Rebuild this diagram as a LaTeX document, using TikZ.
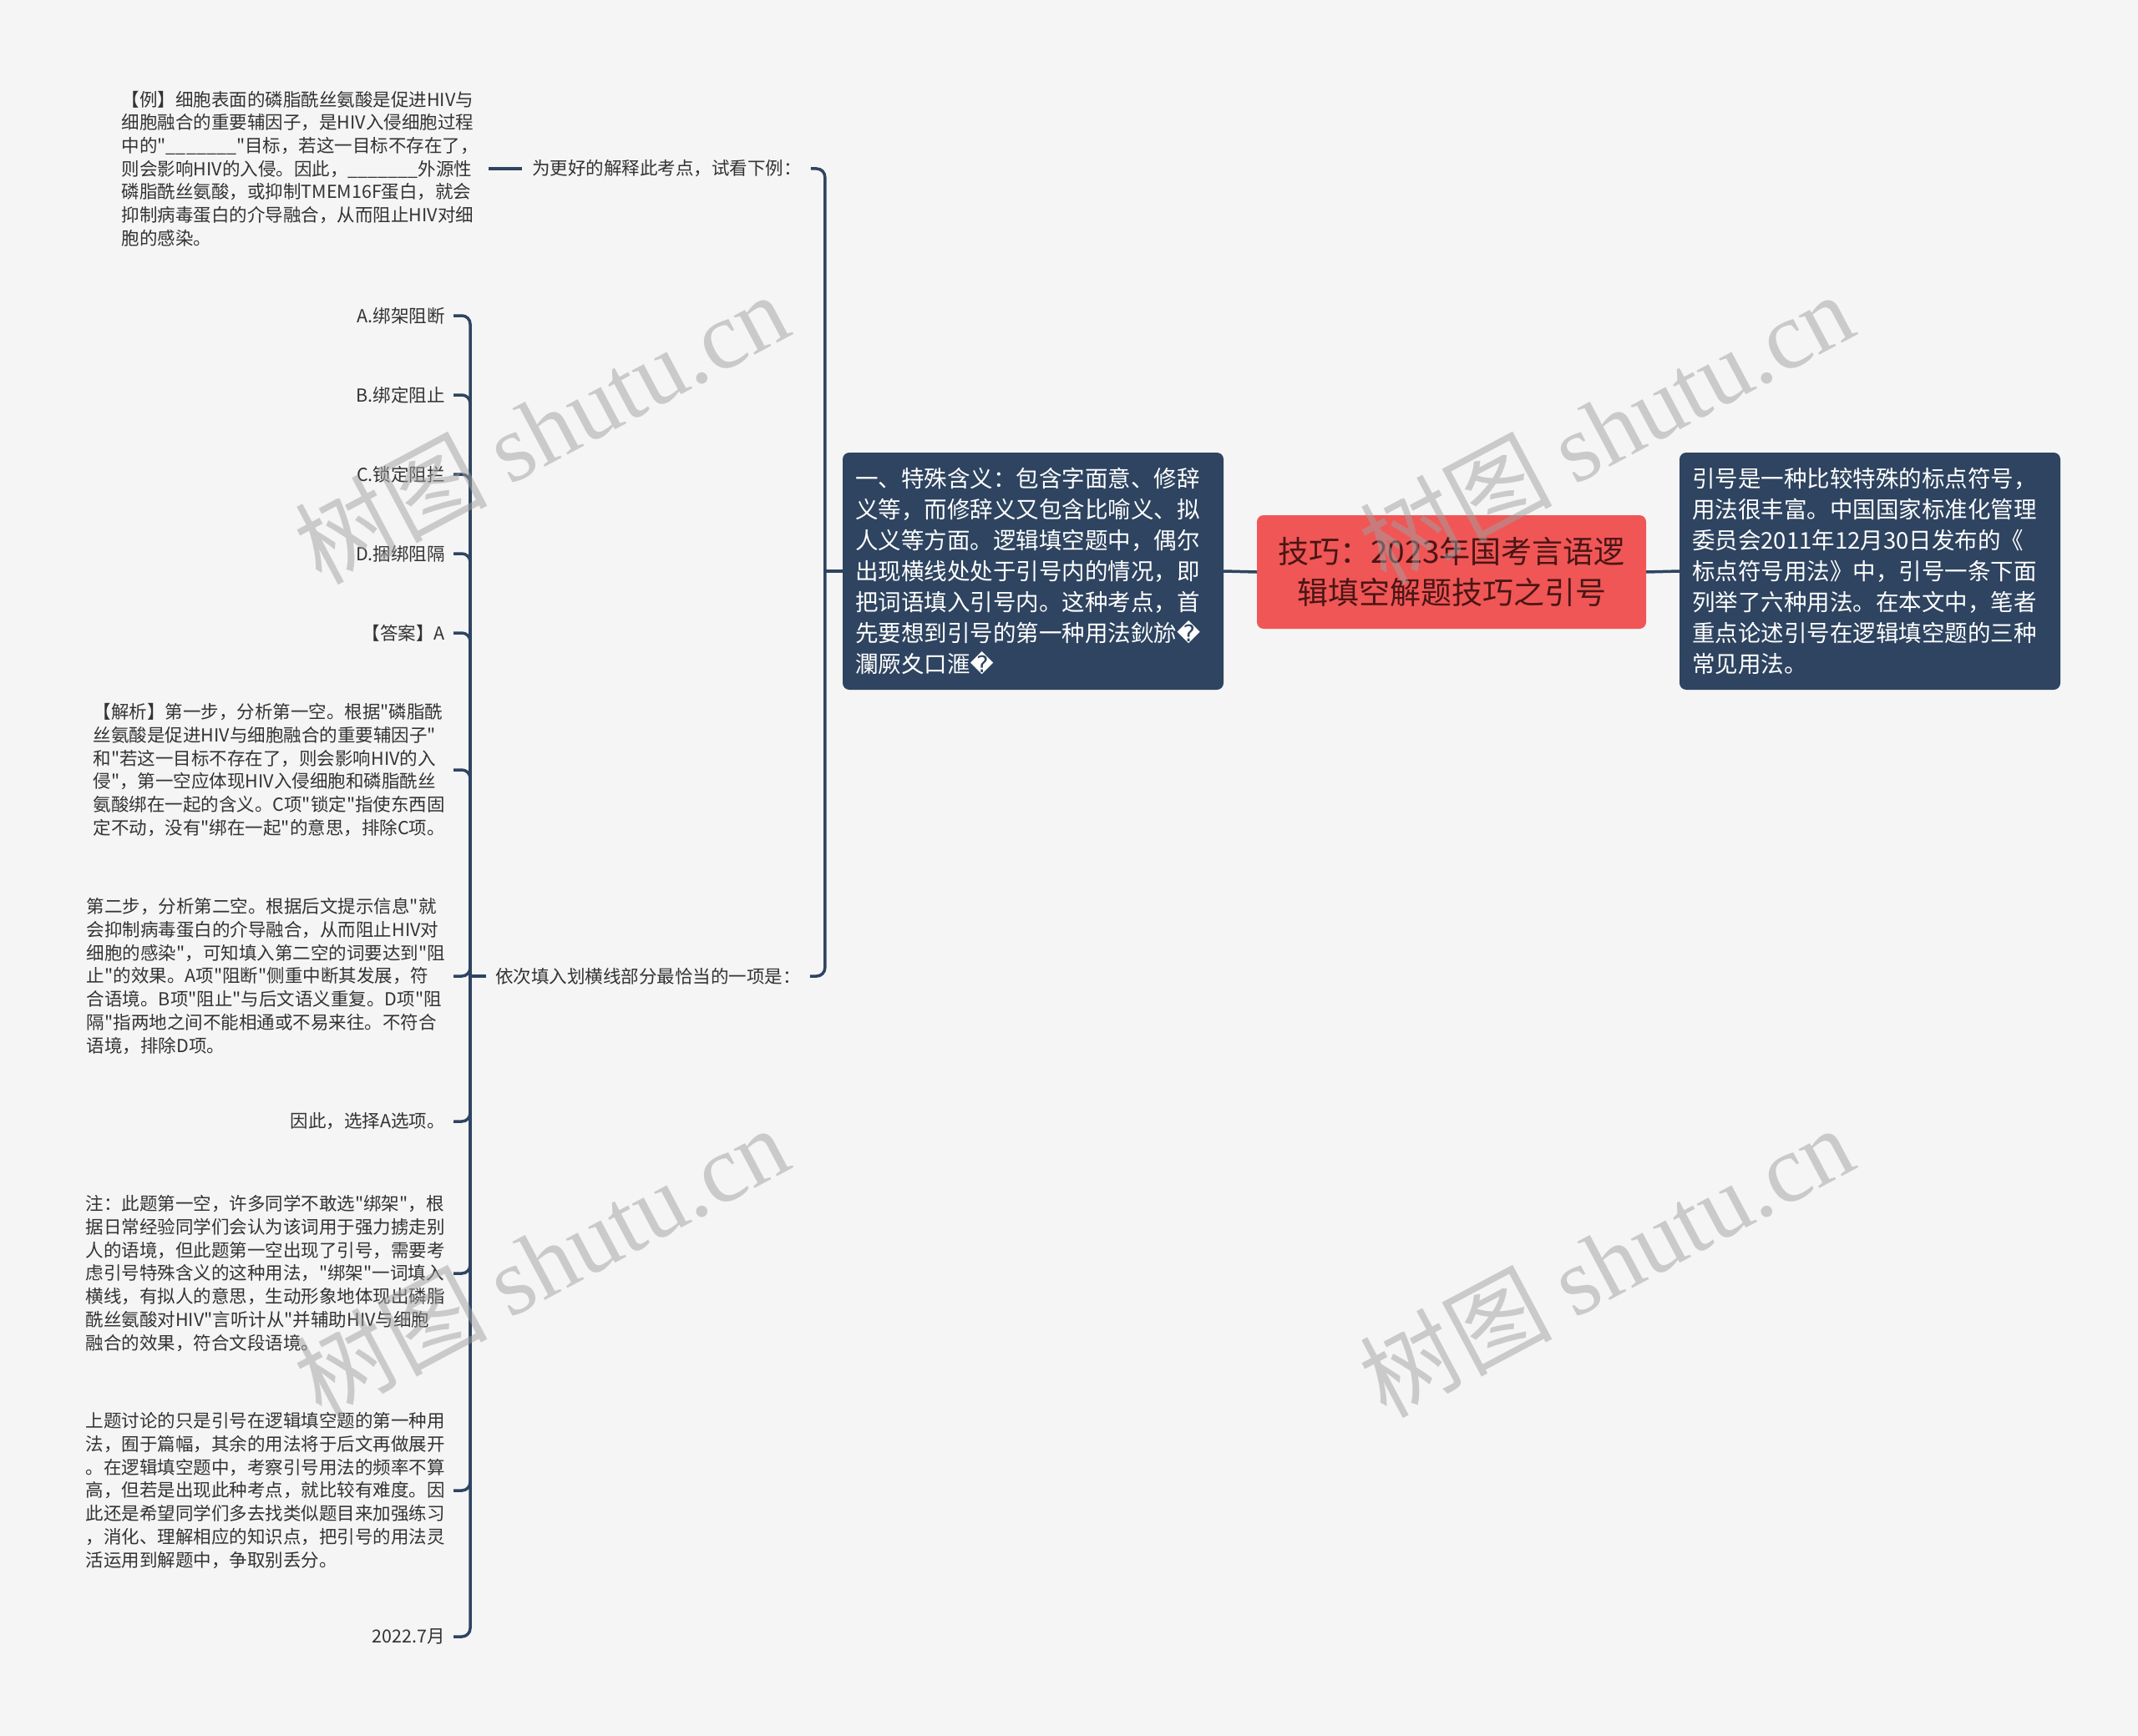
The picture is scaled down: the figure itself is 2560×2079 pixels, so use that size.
\documentclass[tikz,border=0pt]{standalone}
\usepackage{fontspec}
\setmainfont{Noto Sans CJK SC}
\newfontfamily\cjkf{Noto Sans CJK SC}
\newfontfamily\djv{DejaVu Sans}
\newfontfamily\wmserif{Liberation Serif}
\usetikzlibrary{calc}
\definecolor{bg}{HTML}{F5F5F5}
\definecolor{navy}{HTML}{2E4460}
\definecolor{rootred}{HTML}{F05656}
\definecolor{roottext}{HTML}{4A1515}
\definecolor{txt}{HTML}{333333}
\definecolor{wm}{HTML}{A0A0A0}
\tikzset{
  conn/.style={draw=navy, line width=3.5pt, rounded corners=10pt},
  small/.style={font=\cjkf\fontsize{21.5}{27.7}\selectfont, text=txt, inner sep=0pt, align=left},
  boxnode/.style={fill=navy, rounded corners=8pt, text=white, font=\cjkf\fontsize{27.5}{37}\selectfont, align=left, text width=426pt, inner xsep=15pt, minimum height=284pt},
  rootbox/.style={fill=rootred, rounded corners=8pt, text=roottext, font=\cjkf\fontsize{37}{49}\selectfont, align=center, minimum width=466pt, minimum height=136pt},
  wmark/.style={text=wm, text opacity=0.5, font=\cjkf\fontsize{115}{115}\selectfont, rotate=28, inner sep=0pt}
}
\begin{document}
\begin{tikzpicture}[x=1pt,y=-1pt]
\useasboundingbox (0,0) rectangle (2560,2079);
\fill[bg] (0,0) rectangle (2560,2079);

% main nodes
\node[rootbox] (root) at (1738,685) {技巧：2023年国考言语逻\\辑填空解题技巧之引号};
\node[boxnode] (lbox) at (1237,684) {一、特殊含义：包含字面意、修辞\\义等，而修辞义又包含比喻义、拟\\人义等方面。逻辑填空题中，偶尔\\出现横线处处于引号内的情况，即\\把词语填入引号内。这种考点，首\\先要想到引号的第一种用法鈥旀{\djv �}\\瀾厥夊口滙{\djv �}};
\node[boxnode] (rbox) at (2239,684) {引号是一种比较特殊的标点符号，\\用法很丰富。中国国家标准化管理\\委员会2011年12月30日发布的《\\标点符号用法》中，引号一条下面\\列举了六种用法。在本文中，笔者\\重点论述引号在逻辑填空题的三种\\常见用法。};

% second level
\node[small, anchor=west] (q1) at (637,202) {为更好的解释此考点，试看下例：};
\node[small, anchor=west] (q2) at (593,1169) {依次填入划横线部分最恰当的一项是：};

% third level
\node[small, anchor=east] (ex) at (573,202) {【例】细胞表面的磷脂酰丝氨酸是促进HIV与\\细胞融合的重要辅因子，是HIV入侵细胞过程\\中的"\_\_\_\_\_\_\_"目标，若这一目标不存在了，\\则会影响HIV的入侵。因此，\_\_\_\_\_\_\_外源性\\磷脂酰丝氨酸，或抑制TMEM16F蛋白，就会\\抑制病毒蛋白的介导融合，从而阻止HIV对细\\胞的感染。};

\node[small, anchor=east] (oa) at (533,378) {A.绑架阻断};
\node[small, anchor=east] (ob) at (533,473) {B.绑定阻止};
\node[small, anchor=east] (oc) at (533,568) {C.锁定阻拦};
\node[small, anchor=east] (od) at (533,663) {D.捆绑阻隔};
\node[small, anchor=east] (ans) at (533,758) {【答案】A};
\node[small, anchor=east] (an1) at (533,922) {【解析】第一步，分析第一空。根据"磷脂酰\\丝氨酸是促进HIV与细胞融合的重要辅因子"\\和"若这一目标不存在了，则会影响HIV的入\\侵"，第一空应体现HIV入侵细胞和磷脂酰丝\\氨酸绑在一起的含义。C项"锁定"指使东西固\\定不动，没有"绑在一起"的意思，排除C项。};
\node[small, anchor=east] (an2) at (533,1169) {第二步，分析第二空。根据后文提示信息"就\\会抑制病毒蛋白的介导融合，从而阻止HIV对\\细胞的感染"，可知填入第二空的词要达到"阻\\止"的效果。A项"阻断"侧重中断其发展，符\\合语境。B项"阻止"与后文语义重复。D项"阻\\隔"指两地之间不能相通或不易来往。不符合\\语境，排除D项。};
\node[small, anchor=east] (sel) at (533,1343) {因此，选择A选项。};
\node[small, anchor=east] (note) at (533,1525) {注：此题第一空，许多同学不敢选"绑架"，根\\据日常经验同学们会认为该词用于强力掳走别\\人的语境，但此题第一空出现了引号，需要考\\虑引号特殊含义的这种用法，"绑架"一词填入\\横线，有拟人的意思，生动形象地体现出磷脂\\酰丝氨酸对HIV"言听计从"并辅助HIV与细胞\\融合的效果，符合文段语境。};
\node[small, anchor=east] (sum) at (533,1785) {上题讨论的只是引号在逻辑填空题的第一种用\\法，囿于篇幅，其余的用法将于后文再做展开\\。在逻辑填空题中，考察引号用法的频率不算\\高，但若是出现此种考点，就比较有难度。因\\此还是希望同学们多去找类似题目来加强练习\\，消化、理解相应的知识点，把引号的用法灵\\活运用到解题中，争取别丢分。};
\node[small, anchor=east] (date) at (533,1960) {2022.7月};

% connectors
\draw[conn] (root.west) -- (lbox.east);
\draw[conn] (root.east) -- (rbox.west);

\coordinate (lsp) at ($(lbox.west)+(-21,0)$);
\draw[conn] (lbox.west) -- (lsp);
\draw[conn] ($(q1.east)+(11,0)$) -| (lsp);
\draw[conn] ($(q2.east)+(11,0)$) -| (lsp);

\draw[conn] ($(ex.east)+(12,0)$) -- ($(q1.west)+(-12,0)$);

\coordinate (ssp) at ($(q2.west)+(-30,0)$);
\draw[conn] ($(q2.west)+(-11,0)$) -- (ssp);
\foreach \c in {oa,ob,oc,od,ans,an1,an2,sel,note,sum,date}{
  \draw[conn] ($(\c.east)+(10,0)$) -| (ssp);
}

% watermarks
\node[wmark] (wm1) at (648,512) {树图 {\wmserif shutu.cn}};
\node[wmark] (wm2) at (1923,512) {树图 {\wmserif shutu.cn}};
\node[wmark] (wm3) at (648,1510) {树图 {\wmserif shutu.cn}};
\node[wmark] (wm4) at (1923,1510) {树图 {\wmserif shutu.cn}};
\end{tikzpicture}
\end{document}
